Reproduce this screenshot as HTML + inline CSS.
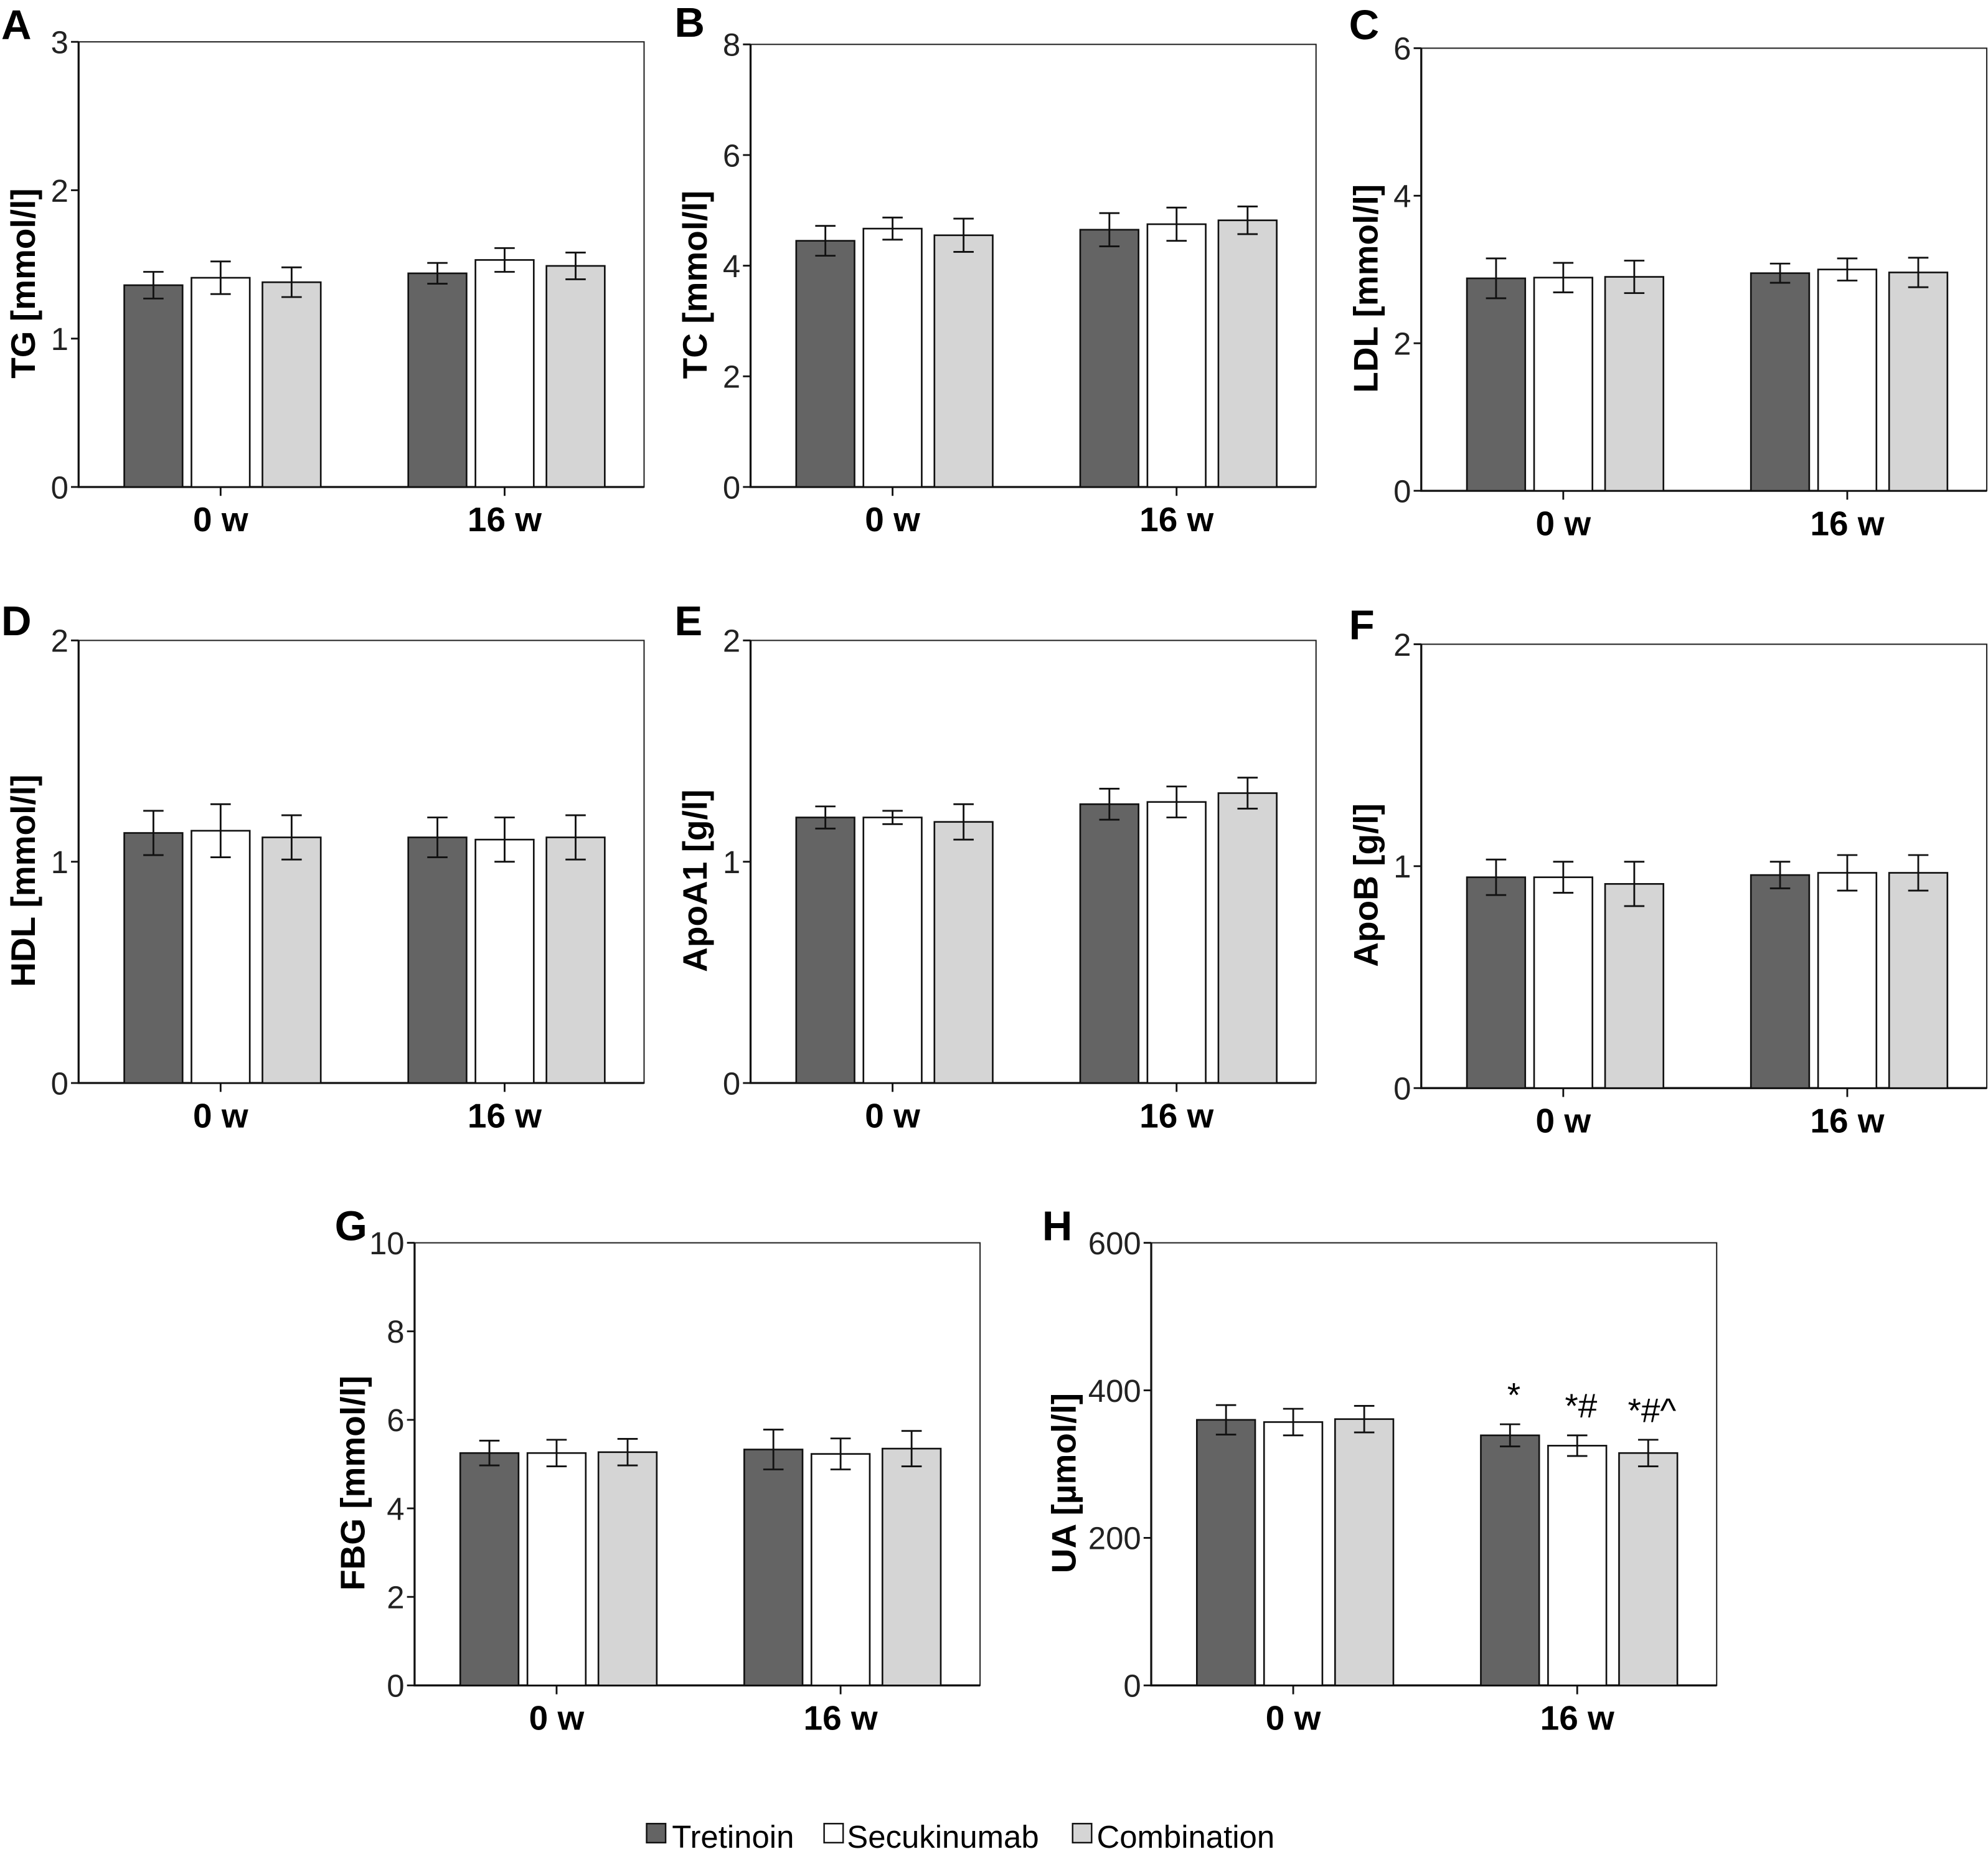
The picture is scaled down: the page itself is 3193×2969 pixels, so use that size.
<!DOCTYPE html>
<html><head><meta charset="utf-8"><style>
html,body{margin:0;padding:0;background:#fff}
svg{display:block}
text{font-family:"Liberation Sans","DejaVu Sans",sans-serif}
</style></head><body>
<svg id="fig" width="3193" height="2969" viewBox="0 0 1568 1458" preserveAspectRatio="none" xmlns="http://www.w3.org/2000/svg">
<g id="legend">
  <g><rect x="510" y="1438" width="15" height="15" fill="#646464" stroke="#111" stroke-width="1.2"/><text x="530" y="1457" font-size="25">Tretinoin</text></g>
  <g><rect x="650" y="1438" width="15" height="15" fill="#fff" stroke="#111" stroke-width="1.2"/><text x="668" y="1457" font-size="25">Secukinumab</text></g>
  <g><rect x="846" y="1438" width="15" height="15" fill="#d5d5d5" stroke="#111" stroke-width="1.2"/><text x="865" y="1457" font-size="25">Combination</text></g>
</g>
</svg>
<script>
// Data arrays (top level)
const categories = ["0 w", "16 w"];
const seriesNames = ["Tretinoin", "Secukinumab", "Combination"];
const panelLetters = ["A","B","C","D","E","F","G","H"];
const panelTitles = ["TG [mmol/l]","TC [mmol/l]","LDL [mmol/l]","HDL [mmol/l]","ApoA1 [g/l]","ApoB [g/l]","FBG [mmol/l]","UA [µmol/l]"];
const yMax = [3, 8, 6, 2, 2, 2, 10, 600];
const yStep = [1, 2, 2, 1, 1, 1, 2, 200];
// values[panel][category][series]
const meanTG = [[1.36,1.41,1.38],[1.44,1.53,1.49]];
const errTG = [[0.09,0.11,0.10],[0.07,0.08,0.09]];
const meanTC = [[4.45,4.67,4.55],[4.65,4.75,4.82]];
const errTC = [[0.27,0.20,0.30],[0.30,0.30,0.25]];
const meanLDL = [[2.88,2.89,2.90],[2.95,3.00,2.96]];
const errLDL = [[0.27,0.20,0.22],[0.13,0.15,0.20]];
const meanHDL = [[1.13,1.14,1.11],[1.11,1.10,1.11]];
const errHDL = [[0.10,0.12,0.10],[0.09,0.10,0.10]];
const meanApoA1 = [[1.20,1.20,1.18],[1.26,1.27,1.31]];
const errApoA1 = [[0.05,0.03,0.08],[0.07,0.07,0.07]];
const meanApoB = [[0.95,0.95,0.92],[0.96,0.97,0.97]];
const errApoB = [[0.08,0.07,0.10],[0.06,0.08,0.08]];
const meanFBG = [[5.25,5.25,5.27],[5.33,5.23,5.35]];
const errFBG = [[0.28,0.30,0.30],[0.45,0.35,0.40]];
const meanUA = [[360,357,361],[339,325,315]];
const errUA = [[20,18,18],[15,14,18]];
const sigUA = [["","",""],["*","*#","*#^"]];

const means = [meanTG,meanTC,meanLDL,meanHDL,meanApoA1,meanApoB,meanFBG,meanUA];
const errs = [errTG,errTC,errLDL,errHDL,errApoA1,errApoB,errFBG,errUA];

// layout (not data)
const frames = [
 {x:62,y:33,b:384,lx:1,ly:31,tx:18},
 {x:592,y:35,b:384,lx:532,ly:29,tx:548},
 {x:1121,y:38,b:387,lx:1064,ly:31,tx:1077},
 {x:62,y:505,b:854,lx:1,ly:501,tx:18},
 {x:592,y:505,b:854,lx:532,ly:501,tx:548},
 {x:1121,y:508,b:858,lx:1064,ly:504,tx:1077},
 {x:327,y:980,b:1329,lx:264,ly:978,tx:278},
 {x:908,y:980,b:1329,lx:822,ly:978,tx:839}
];
const W = 446, barW = 46;
const barOff = [36, 89, 145];
const groupOff = [0, 224];
const fills = ["#646464","#ffffff","#d5d5d5"];
const NS = "http://www.w3.org/2000/svg";
const svg = document.getElementById("fig");
function mk(tag, attrs, parent){const e=document.createElementNS(NS,tag);for(const k in attrs)e.setAttribute(k,attrs[k]);parent.appendChild(e);return e;}

panelLetters.forEach((L,p)=>{
  const f = frames[p];
  const g = mk("g",{},svg);
  
  
  const yS = v => f.b - v/yMax[p]*(f.b-f.y);
  const xS = (c,s) => f.x + groupOff[c] + barOff[s];
  const lt = mk("text",{x:f.lx,y:f.ly,"font-size":33,"font-weight":"bold"},g); lt.textContent=L;
  
  
  const fr = mk("rect",{x:f.x,y:f.y,width:W,height:f.b-f.y,fill:"none",stroke:"#222","stroke-width":1},g);
  
  
  const ax = mk("path",{d:`M${f.x},${f.y}V${f.b}H${f.x+W}`,fill:"none",stroke:"#111","stroke-width":1.6},g);
  
  
  for(let v=0; v<=yMax[p]+1e-9; v+=yStep[p]){
    const y=yS(v);
    mk("line",{x1:f.x-6,x2:f.x,y1:y,y2:y,stroke:"#111","stroke-width":1.4},g);
    const t=mk("text",{x:f.x-8,y:y+9,"font-size":25,"text-anchor":"end",fill:"#222"},g); t.textContent=v;
    
    
  }
  const cy=(f.y+f.b)/2+15;
  const yt=mk("text",{x:f.tx,y:cy,"font-size":27,"font-weight":"bold","text-anchor":"middle",transform:`rotate(-90 ${f.tx} ${cy})`,dy:"0.35em"},g);
  yt.textContent=panelTitles[p];
  
  
  categories.forEach((cat,c)=>{
    const cx = xS(c,1)+barW/2;
    mk("line",{x1:cx,x2:cx,y1:f.b,y2:f.b+7,stroke:"#111","stroke-width":1.4},g);
    const ct=mk("text",{x:cx,y:f.b+35,"font-size":27,"font-weight":"bold","text-anchor":"middle"},g); ct.textContent=cat;
    
    
    seriesNames.forEach((s,si)=>{
      const v=means[p][c][si], e=errs[p][c][si];
      const x=xS(c,si), y=yS(v);
      const r=mk("rect",{x:x,y:y,width:barW,height:f.b-y,fill:fills[si],stroke:"#111","stroke-width":1.3},g);
      
      
      const mx=x+barW/2, y1=yS(v+e), y2=yS(v-e);
      const eb=mk("path",{d:`M${mx},${y1}V${y2}M${mx-8},${y1}H${mx+8}M${mx-8},${y2}H${mx+8}`,stroke:"#111","stroke-width":1.4,fill:"none"},g);
      
      
      if(p===7 && sigUA[c][si]){
        const st=mk("text",{x:mx+3,y:y1-14,"font-size":27,"text-anchor":"middle"},g); st.textContent=sigUA[c][si];
        
        
      }
    });
  });
});
</script>
</body></html>
